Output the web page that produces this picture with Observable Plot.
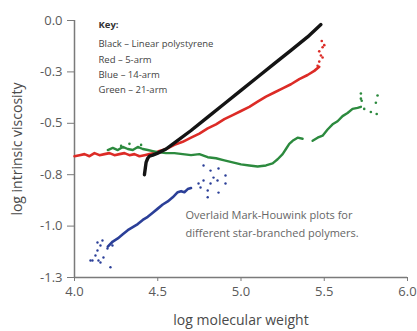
<!DOCTYPE html>
<html>
<head>
<meta charset="utf-8">
<script src="https://cdn.jsdelivr.net/npm/d3@7"></script>
<script src="https://cdn.jsdelivr.net/npm/@observablehq/plot@0.6"></script>
<style>
  html, body { margin: 0; padding: 0; background: #fff; }
  #chart { width: 417px; height: 331px; }
</style>
</head>
<body>
<div id="chart"></div>
<script>
// ---- data ----
const xTicks = [4.0, 4.5, 5.0, 5.5, 6.0];
const xTickLabels = ["4.0", "4.5", "5.0", "5.5", "6.0"];
const yTicks = [0, -0.25, -0.5, -0.75, -1.0, -1.25];
const yTickLabels = ["0.0", "-0.3", "-0.5", "-0.8", "-1.0", "-1.3"];

// Black – linear polystyrene
const blackX = [4.42, 4.425, 4.43, 4.44, 4.45, 4.47, 4.50, 4.55, 4.60, 4.70, 4.80, 4.90, 5.00, 5.10, 5.20, 5.30, 5.40, 5.48];
const blackY = [-0.75, -0.72, -0.69, -0.67, -0.66, -0.655, -0.645, -0.625, -0.595, -0.535, -0.47, -0.405, -0.34, -0.275, -0.21, -0.145, -0.08, -0.02];

// Red – 5-arm
const redX = [4.00, 4.03, 4.06, 4.09, 4.12, 4.15, 4.18, 4.21, 4.24, 4.27, 4.30, 4.33, 4.36, 4.39, 4.42, 4.45, 4.48, 4.51, 4.55, 4.60, 4.65, 4.70, 4.75, 4.80, 4.85, 4.90, 4.95, 5.00, 5.05, 5.10, 5.15, 5.20, 5.25, 5.30, 5.35, 5.40, 5.44, 5.47];
const redY = [-0.66, -0.655, -0.65, -0.66, -0.645, -0.655, -0.65, -0.645, -0.655, -0.65, -0.645, -0.655, -0.65, -0.66, -0.655, -0.65, -0.645, -0.635, -0.625, -0.605, -0.59, -0.57, -0.55, -0.525, -0.505, -0.48, -0.46, -0.44, -0.42, -0.395, -0.37, -0.35, -0.33, -0.31, -0.285, -0.265, -0.245, -0.225];
const redDotX = [5.47, 5.48, 5.49, 5.50, 5.47, 5.49, 5.46, 5.485];
const redDotY = [-0.20, -0.17, -0.13, -0.12, -0.15, -0.18, -0.22, -0.10];

// Blue – 14-arm
const blueX = [4.20, 4.23, 4.26, 4.29, 4.32, 4.35, 4.38, 4.41, 4.44, 4.47, 4.50, 4.53, 4.56, 4.59, 4.62, 4.64, 4.66, 4.68, 4.70];
const blueY = [-1.10, -1.075, -1.06, -1.04, -1.02, -1.005, -0.99, -0.97, -0.955, -0.935, -0.915, -0.895, -0.88, -0.86, -0.835, -0.83, -0.835, -0.82, -0.815];
const blueDotX = [4.096, 4.108, 4.126, 4.138, 4.144, 4.156, 4.168, 4.174, 4.198, 4.216, 4.228, 4.156, 4.138,
                  4.745, 4.757, 4.775, 4.775, 4.80, 4.80, 4.817, 4.817, 4.835, 4.859, 4.865, 4.865, 4.907, 4.907];
const blueDotY = [-1.167, -1.167, -1.143, -1.119, -1.167, -1.094, -1.07, -1.153, -1.109, -1.20, -1.094, -1.177, -1.08,
                  -0.793, -0.812, -0.705, -0.778, -0.827, -0.86, -0.73, -0.793, -0.764, -0.778, -0.72, -0.837, -0.754, -0.793];

// Green – 21-arm (null = gap in the trace)
const greenX = [4.20, 4.23, 4.26, 4.29, 4.32, 4.35, 4.38, 4.41, 4.44, 4.47, 4.50, 4.55, 4.60, 4.65, 4.70, 4.75, 4.80, 4.85, 4.90, 4.95, 5.00, 5.05, 5.10, 5.15, 5.19, 5.22, 5.25, 5.27, 5.29, 5.31, 5.34, 5.37, 5.40,
                5.43, 5.46, 5.49, 5.52, 5.55, 5.58, 5.61, 5.64, 5.67, 5.70, 5.72];
const greenY = [-0.63, -0.62, -0.63, -0.615, -0.625, -0.63, -0.615, -0.625, -0.63, -0.635, -0.64, -0.645, -0.645, -0.65, -0.655, -0.65, -0.665, -0.67, -0.68, -0.69, -0.70, -0.705, -0.71, -0.705, -0.695, -0.675, -0.65, -0.625, -0.60, -0.585, -0.57, -0.575, null,
                -0.585, -0.57, -0.56, -0.53, -0.505, -0.49, -0.465, -0.45, -0.43, -0.425, -0.42];
const greenDotX = [4.28, 4.33, 4.40, 5.72, 5.72, 5.725, 5.78, 5.82, 5.81, 5.815, 5.74];
const greenDotY = [-0.61, -0.60, -0.605, -0.355, -0.38, -0.39, -0.445, -0.365, -0.40, -0.455, -0.43];

const keyTitle = ["Key:"];
const keyLines = ["Black – Linear polystyrene", "Red – 5-arm", "Blue – 14-arm", "Green – 21-arm"];
const noteLines = ["Overlaid Mark-Houwink plots for", "different star-branched polymers."];

// ---- build ----
const pts = (xs, ys) => xs.map((x, i) => ({x, y: ys[i]}));
const black = pts(blackX, blackY);
const red = pts(redX, redY), redDots = pts(redDotX, redDotY);
const blue = pts(blueX, blueY), blueDots = pts(blueDotX, blueDotY);
const green = pts(greenX, greenY), greenDots = pts(greenDotX, greenDotY);

const C = {black: "#141414", red: "#dc2b26", blue: "#2b3f98", green: "#2c8a3e", axis: "#7a7a7a", text: "#555"};

const chart = Plot.plot({
  width: 417,
  height: 331,
  marginTop: 20,
  marginRight: 10,
  marginBottom: 54,
  marginLeft: 74,
  style: {fontFamily: "'Open Sans', sans-serif", fontSize: "13px", color: C.text, background: "#fff"},
  x: {domain: [4, 6]},
  y: {domain: [-1.25, 0]},
  marks: [
    Plot.axisX({ticks: xTicks, tickFormat: (d, i) => xTickLabels[i], tickSize: 4, tickPadding: 5,
      stroke: C.axis, fill: "#5a5a5a", fontSize: 13,
      label: null}),
    Plot.axisY({ticks: yTicks, tickFormat: (d, i) => yTickLabels[i], tickSize: 7, tickPadding: 5,
      stroke: C.axis, fill: "#5a5a5a", fontSize: 13,
      label: null}),
    Plot.axisX({ticks: [], tickSize: 0, fill: "#4a4a4a", fontSize: 14,
      label: "log molecular weight", labelAnchor: "center", labelArrow: "none", labelOffset: 47}),
    Plot.axisY({ticks: [], tickSize: 0, fill: "#4a4a4a", fontSize: 14,
      label: "log intrinsic viscosity", labelAnchor: "center", labelArrow: "none", labelOffset: 62}),
    Plot.ruleX([4], {stroke: C.axis, strokeWidth: 1.5}),
    Plot.ruleY([-1.25], {stroke: C.axis, strokeWidth: 1.5}),
    Plot.dot(blueDots, {x: "x", y: "y", r: 1.2, fill: C.blue}),
    Plot.line(blue, {x: "x", y: "y", stroke: C.blue, strokeWidth: 2.6}),
    Plot.line(red, {x: "x", y: "y", stroke: C.red, strokeWidth: 2.6}),
    Plot.dot(redDots, {x: "x", y: "y", r: 1.3, fill: C.red}),
    Plot.line(green, {x: "x", y: "y", stroke: C.green, strokeWidth: 2.4}),
    Plot.dot(greenDots, {x: "x", y: "y", r: 1.3, fill: C.green}),
    Plot.line(black, {x: "x", y: "y", stroke: C.black, strokeWidth: 3.4}),
    Plot.text(keyTitle, {x: 4.144, y: -0.024, text: d => d,
      textAnchor: "start", fontSize: 9.5, fill: "#333", fontWeight: "bold"}),
    Plot.text(keyLines, {x: 4.144, y: (d, i) => [-0.112, -0.19, -0.263, -0.34][i], text: d => d,
      textAnchor: "start", fontSize: 9.5, fill: "#444"}),
    Plot.text(noteLines, {x: 4.667, y: (d, i) => [-0.948, -1.036][i], text: d => d,
      textAnchor: "start", fontSize: 11, fill: "#666"})
  ]
});
document.getElementById("chart").appendChild(chart);
</script>
</body>
</html>
